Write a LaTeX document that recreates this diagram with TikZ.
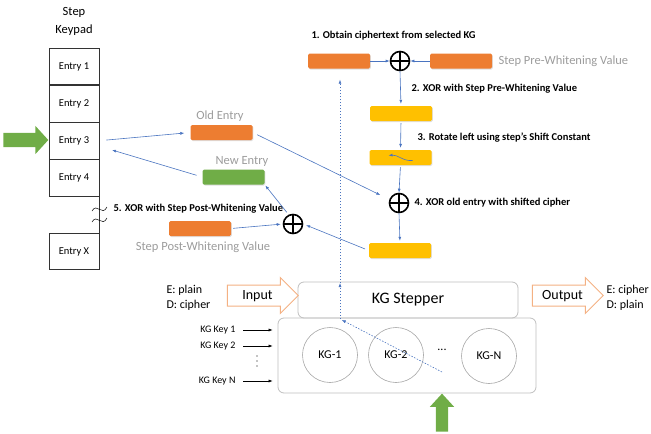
\documentclass[tikz,border=0pt]{standalone}
\usepackage{fontspec}
\setmainfont{Carlito}
\usepackage{tikz}
\usetikzlibrary{arrows.meta,positioning,calc,shapes.arrows,shadows}

\definecolor{barorange}{HTML}{ED7D31}
\definecolor{bargreen}{HTML}{70AD47}
\definecolor{baryellow}{HTML}{FFC000}
\definecolor{flowblue}{HTML}{4A74C0}
\definecolor{labelgray}{HTML}{9C9C9C}
\definecolor{boxgray}{HTML}{BFBFBF}
\definecolor{hollowtan}{HTML}{F4B183}

\begin{document}
\begin{tikzpicture}[x=1pt,y=-1pt,
  keycell/.style={rectangle,draw=black!80,line width=0.6pt,minimum width=50pt,minimum height=36.5pt,inner sep=0pt,font=\fontsize{10.5}{12}\selectfont},
  valbar/.style={rectangle,rounded corners=1.5pt,minimum width=62pt,minimum height=15pt,inner sep=0pt,drop shadow={opacity=0.25,shadow xshift=0.8pt,shadow yshift=-1pt}},
  xorsym/.style={circle,draw,line width=1.6pt,minimum size=19pt,inner sep=0pt,
    path picture={\draw[line width=1.4pt] (path picture bounding box.north) -- (path picture bounding box.south)
      (path picture bounding box.west) -- (path picture bounding box.east);}},
  flow/.style={-{Latex[length=4pt,width=3pt]},flowblue,line width=0.6pt},
  trace/.style={flow,dash pattern=on 1.5pt off 1.5pt},
  steplabel/.style={anchor=west,font=\bfseries\fontsize{10.5}{12}\selectfont},
  graylabel/.style={text=labelgray,font=\fontsize{12.5}{14}\selectfont},
  hollowarrow/.style={single arrow,draw=hollowtan,line width=1pt,fill=white,minimum height=71pt,
    single arrow head extend=7.5pt,inner ysep=3.5pt,inner xsep=2pt,text height=10pt,text depth=3pt,font=\fontsize{14}{16}\selectfont},
  greenarrow/.style={single arrow,fill=bargreen,draw=none},
  kgcircle/.style={circle,draw=black!35,line width=0.6pt,minimum size=55pt,font=\fontsize{12}{14}\selectfont},
  panel/.style={rectangle,rounded corners=6pt,draw=boxgray,line width=0.8pt},
  keylabel/.style={anchor=east,font=\fontsize{10}{12}\selectfont},
  keyarrow/.style={-{Latex[length=4pt,width=3pt]},black,line width=0.5pt}
]
\useasboundingbox (0,0) rectangle (651,434);

% step keypad
\node[align=center,font=\fontsize{12.5}{18}\selectfont] (keypadtitle) at (74,21) {Step\\Keypad};
\node[keycell] (entry1) at (74,66.5) {Entry 1};
\node[keycell,below=0pt of entry1] (entry2) {Entry 2};
\node[keycell,below=0pt of entry2] (entry3) {Entry 3};
\node[keycell,below=0pt of entry3] (entry4) {Entry 4};
\node[keycell] (entryX) at (74,251.5) {Entry X};
\draw[black!80,line width=0.6pt] (entry4.south east) -- (entryX.north east);
\draw[line width=0.5pt] (92,211) .. controls (97,202) and (102,217) .. (107,207);
\draw[line width=0.5pt] (92,222) .. controls (97,213) and (102,228) .. (107,218);

% selector arrows
\node[greenarrow,minimum height=45pt,minimum width=28pt,inner xsep=0pt,inner ysep=7pt,single arrow head extend=7pt,single arrow tip angle=95] (selectin) at (22.5,140) {};
\node[greenarrow,minimum height=38pt,minimum width=24pt,inner sep=6pt,single arrow head extend=6pt,single arrow tip angle=85,shape border rotate=90] (kgselect) at (442,416) {};

% old / new entry
\node[graylabel] (oldlabel) at (220,116) {Old Entry};
\node[valbar,fill=barorange] (oldbar) at (221.5,132.5) {};
\node[graylabel] (newlabel) at (242,161) {New Entry};
\node[valbar,fill=bargreen] (newbar) at (233.5,177) {};
\coordinate (entryin) at (112,150);

% post-whitening
\node[steplabel] (step5) at (110,209) {5. XOR with Step Post-Whitening Value};
\node[valbar,fill=barorange] (postbar) at (200,228.5) {};
\node[graylabel] (postlabel) at (203,247) {Step Post-Whitening Value};
\node[xorsym] (xor5) at (293,224) {};

% cipher path
\node[steplabel] (step1) at (308,36) {1. Obtain ciphertext from selected KG};
\node[valbar,fill=barorange] (cipherbar) at (339,61) {};
\node[xorsym] (xor1) at (400,61) {};
\node[valbar,fill=barorange] (prebar) at (461,61) {};
\node[graylabel,anchor=west] (prelabel) at (495,61) {Step Pre-Whitening Value};
\node[steplabel] (step2) at (408,89) {2. XOR with Step Pre-Whitening Value};
\node[valbar,fill=baryellow] (ybar1) at (401,113.5) {};
\node[steplabel] (step3) at (414,138) {3. Rotate left using step's Shift Constant};
\node[valbar,fill=baryellow] (ybar2) at (400.5,157.5) {};
\node[xorsym] (xor4) at (399,203) {};
\node[steplabel] (step4) at (411,203) {4. XOR old entry with shifted cipher};
\node[valbar,fill=baryellow] (ybar3) at (400,250.5) {};

% arrows
\draw[flow] (cipherbar.east) -- (xor1.west);
\draw[flow] (prebar.west) -- (xor1.east);
\draw[flow,shorten >=2pt] (xor1.south) -- (ybar1.north);
\draw[flow,shorten <=2pt,shorten >=2pt] (ybar1.south) -- (ybar2.north);
\draw[flow] ($(ybar2.center)+(12,3)$) .. controls ($(ybar2.center)+(3,4)$) and ($(ybar2.center)+(-3,-3)$) .. ($(ybar2.center)+(-12,-2)$);
\draw[flow,shorten <=2pt] (ybar2.south) -- (xor4.north);
\draw[flow,shorten >=2pt] (xor4.south) -- (ybar3.north);
\draw[flow,shorten <=7pt,shorten >=6pt] (entry3.east) -- (oldbar.west);
\draw[flow,shorten <=5pt,shorten >=10pt] (oldbar.east) -- (xor4.160);
\draw[flow,shorten <=6pt] (newbar.west) -- (entryin);
\draw[flow,shorten <=4pt,shorten >=3pt] (ybar3.west) -- (xor5.east);
\draw[flow,shorten <=2pt,shorten >=2pt] (postbar.east) -- (xor5.west);
\draw[flow,shorten <=3pt,shorten >=1pt] (xor5.115) -- (newbar.south east);

% kg stepper
\node[panel,minimum width=258pt,minimum height=75pt] (kgbox) at (407,355.5) {};
\node[panel,minimum width=220pt,minimum height=36pt,font=\fontsize{16}{18}\selectfont] (stepper) at (408,300) {KG Stepper};
\node[kgcircle] (kg1) at (330,355) {KG-1};
\node[kgcircle] (kg2) at (396,355) {KG-2};
\node[font=\fontsize{12}{14}\selectfont] (kgdots) at (442,350) {...};
\node[kgcircle] (kgN) at (489,356) {KG-N};

\node[hollowarrow] (inarrow) at (257.5,295.5) {Input};
\node[hollowarrow] (outarrow) at (562.5,295.5) {Output};
\node[align=left,anchor=west,font=\fontsize{12}{15}\selectfont] (inmodes) at (163,298) {E: plain\\D: cipher};
\node[align=left,anchor=west,font=\fontsize{12}{15}\selectfont] (outmodes) at (603,298) {E: cipher\\D: plain};

% kg keys
\node[keylabel] (key1) at (239,330) {KG Key 1};
\node[keylabel] (key2) at (239,346) {KG Key 2};
\node[inner sep=0pt,minimum width=3pt,minimum height=14pt,
  path picture={\foreach \dy in {-5,0,5} \fill ($(path picture bounding box.center)+(0,\dy)$) circle (0.7pt);}] (keydots) at (257,361) {};
\node[keylabel] (keyN) at (239,381) {KG Key N};
\draw[keyarrow,shorten <=4pt,shorten >=5pt] (key1.east) -- (key1.east -| kgbox.west);
\draw[keyarrow,shorten <=4pt,shorten >=5pt] (key2.east) -- (key2.east -| kgbox.west);
\draw[keyarrow,shorten <=4pt,shorten >=5pt] (keyN.east) -- (keyN.east -| kgbox.west);

% selected kg trace
\coordinate (tapsrc) at (442,372);
\coordinate (tapbot) at (340,319);
\coordinate (taptop) at (340,283);
\draw[trace,shorten >=2pt] (tapsrc) -- (tapbot);
\draw[trace] (tapbot) -- (taptop);
\draw[trace,shorten >=11pt] (taptop) -- (taptop |- cipherbar.south);
\end{tikzpicture}
\end{document}
